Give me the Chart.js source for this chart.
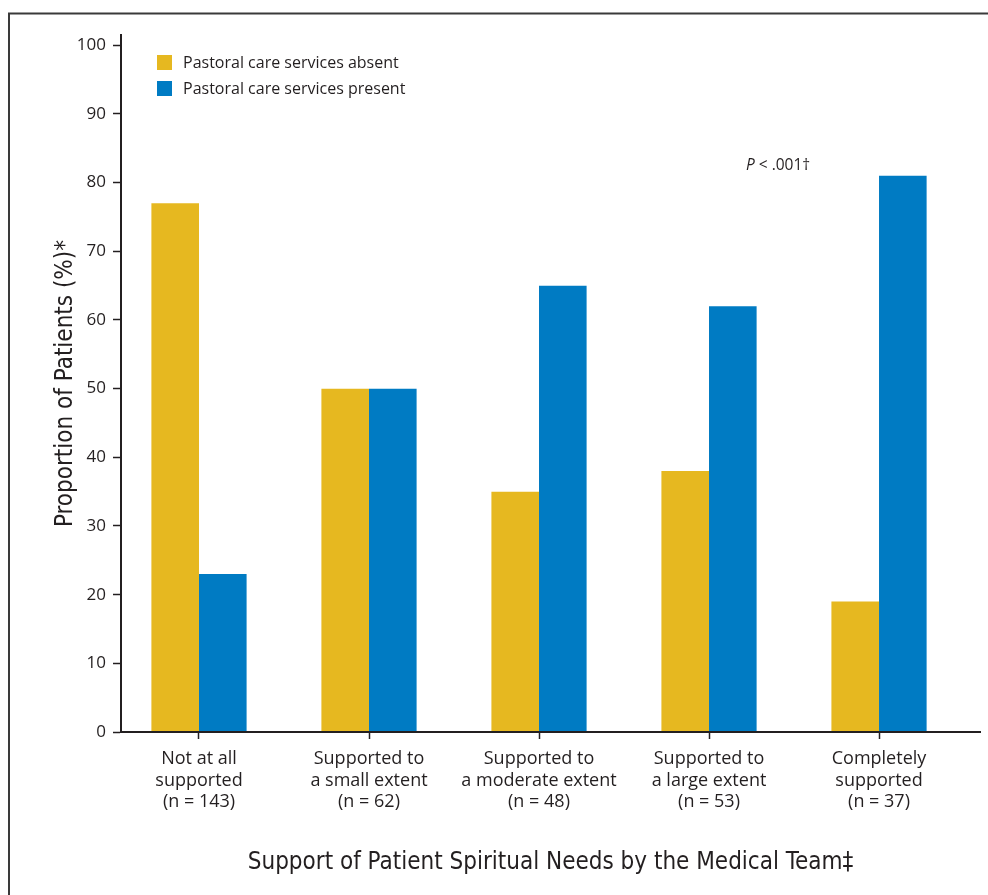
<!DOCTYPE html>
<html>
<head>
<meta charset="utf-8">
<script src="https://cdn.jsdelivr.net/npm/chart.js@4.4.1/dist/chart.umd.min.js"></script>
<style>
  html, body { margin: 0; padding: 0; background: #fff; }
  #wrap { width: 988px; height: 895px; }
</style>
</head>
<body>
<div id="wrap"><canvas id="chart" width="988" height="895"></canvas></div>
<script>
// Categories (multi-line tick labels) and the two series, in percent
const categoryLabels = [
  ['Not at all', 'supported', '(n = 143)'],
  ['Supported to', 'a small extent', '(n = 62)'],
  ['Supported to', 'a moderate extent', '(n = 48)'],
  ['Supported to', 'a large extent', '(n = 53)'],
  ['Completely', 'supported', '(n = 37)']
];
const seriesNames = ['Pastoral care services absent', 'Pastoral care services present'];
const absentValues = [77, 50, 35, 38, 19];
const presentValues = [23, 50, 65, 62, 81];
const yTickValues = [0, 10, 20, 30, 40, 50, 60, 70, 80, 90, 100];
const xTitle = 'Support of Patient Spiritual Needs by the Medical Team\u2021';
const yTitle = 'Proportion of Patients (%)*';
const pValueNote = ['P', ' < .001\u2020'];

const INK = '#231f20';
const YELLOW = '#E6B820';
const BLUE = '#007BC3';
const SANS = "'Open Sans', 'Noto Sans', 'Liberation Sans', sans-serif";
const NARROW = "'Liberation Sans Narrow', 'DejaVu Sans Condensed', 'Liberation Sans', sans-serif";

// Frame, legend block and significance note
const decorations = {
  id: 'decorations',
  beforeDraw(chart) {
    const { ctx } = chart;
    ctx.save();
    ctx.fillStyle = '#fff';
    ctx.fillRect(0, 0, chart.width, chart.height);
    ctx.strokeStyle = '#3a3a3a';
    ctx.lineWidth = 2;
    ctx.beginPath();
    ctx.moveTo(9, chart.height);
    ctx.lineTo(9, 13.5);
    ctx.lineTo(chart.width, 13.5);
    ctx.stroke();
    ctx.restore();
  },
  afterDraw(chart) {
    const { ctx } = chart;
    ctx.save();
    // legend
    chart.data.datasets.forEach((ds, i) => {
      const top = 55 + i * 26;
      ctx.fillStyle = ds.backgroundColor;
      ctx.fillRect(157, top, 15, 15);
      ctx.fillStyle = INK;
      ctx.font = `16px ${SANS}`;
      ctx.textBaseline = 'alphabetic';
      ctx.textAlign = 'left';
      ctx.fillText(ds.label, 183, top + 13);
    });
    // P value note
    const x0 = 746, base = 170;
    ctx.font = `italic 15.5px ${SANS}`;
    ctx.fillText(pValueNote[0], x0, base);
    const w = ctx.measureText(pValueNote[0]).width;
    ctx.font = `15.5px ${SANS}`;
    ctx.fillText(pValueNote[1], x0 + w, base);
    ctx.restore();
  }
};

const toPoints = values => values.map((v, i) => ({ x: i, y: v }));

new Chart(document.getElementById('chart'), {
  type: 'bar',
  data: {
    datasets: [
      { label: seriesNames[0], data: toPoints(absentValues), backgroundColor: YELLOW, borderWidth: 0 },
      { label: seriesNames[1], data: toPoints(presentValues), backgroundColor: BLUE, borderWidth: 0 }
    ]
  },
  options: {
    responsive: false,
    animation: false,
    layout: { padding: { top: 35, right: 8, left: 0, bottom: 0 } },
    datasets: { bar: { categoryPercentage: 0.56, barPercentage: 1.0 } },
    plugins: { legend: { display: false }, tooltip: { enabled: false } },
    scales: {
      x: {
        type: 'linear',
        min: -0.4588,
        max: 4.594,
        offset: false,
        afterBuildTicks: s => { s.ticks = categoryLabels.map((_, i) => ({ value: i })); },
        afterFit: s => { s.height = 163; },
        grid: { offset: false, drawOnChartArea: false, drawTicks: true, tickLength: 7, tickColor: INK, tickWidth: 1.5 },
        border: { display: true, color: INK, width: 2, z: 1 },
        ticks: {
          padding: 9, color: INK, autoSkip: false, maxRotation: 0,
          font: { family: SANS, size: 18, lineHeight: 1.2 },
          callback: v => categoryLabels[v]
        },
        title: {
          display: true, text: xTitle, color: INK,
          font: { family: NARROW, size: 24, lineHeight: 1.2 },
          padding: { top: 0, bottom: 18 }
        }
      },
      y: {
        min: 0,
        max: 101.5,
        afterBuildTicks: s => { s.ticks = yTickValues.map(v => ({ value: v })); },
        afterFit: s => { s.width = 121; },
        grid: { drawOnChartArea: false, drawTicks: true, tickLength: 8, tickColor: INK, tickWidth: 1.5 },
        border: { display: true, color: INK, width: 2, z: 1 },
        ticks: { padding: 7, color: INK, font: { family: SANS, size: 17 } },
        title: {
          display: true, text: yTitle, color: INK,
          font: { family: NARROW, size: 24, lineHeight: 1.2 },
          padding: { top: 51, bottom: 0 }
        }
      }
    }
  },
  plugins: [decorations]
});
</script>
</body>
</html>
